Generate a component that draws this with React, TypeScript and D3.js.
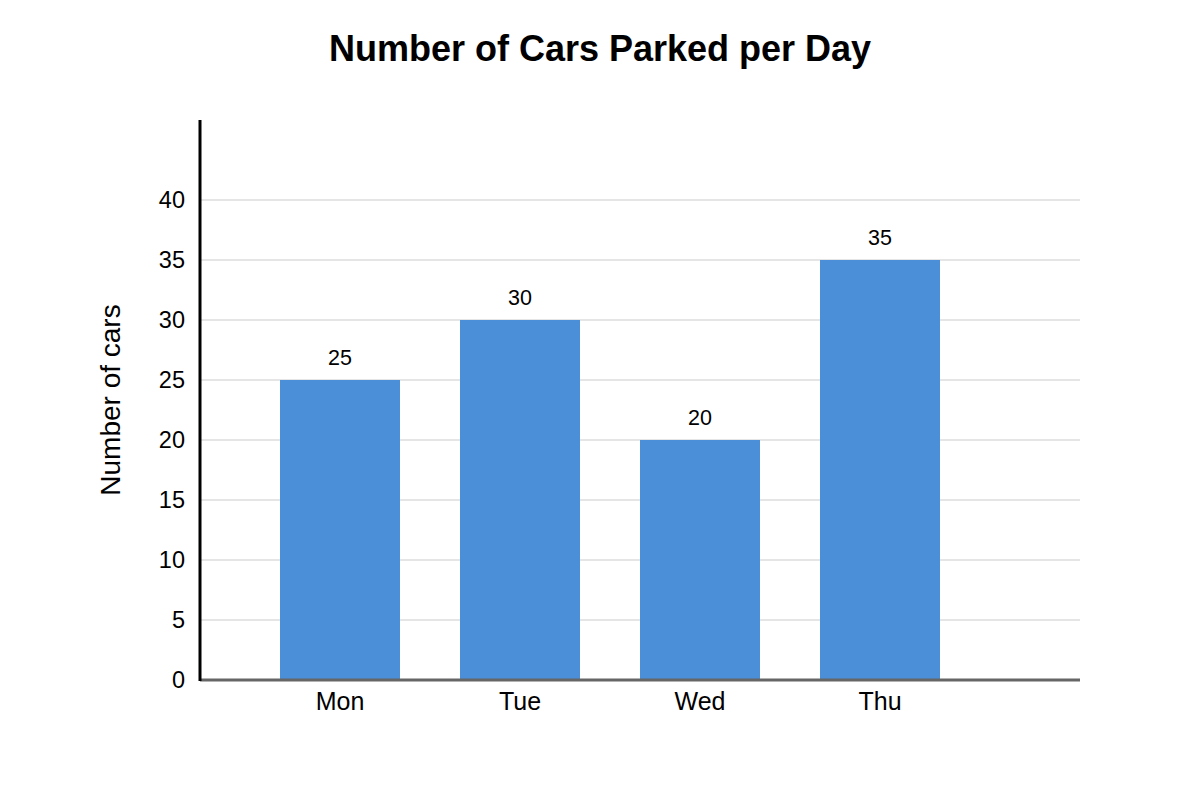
import { useEffect, useRef } from "react";
import * as d3 from "d3";

const WIDTH = 1200;
const HEIGHT = 800;

const TITLE = "Number of Cars Parked per Day";
const Y_LABEL = "Number of cars";
const DAYS = ["Mon", "Tue", "Wed", "Thu"];
const CARS = [25, 30, 20, 35];
const Y_TICKS = [0, 5, 10, 15, 20, 25, 30, 35, 40];

const BAR_COLOR = "#4a8fd8";
const FONT = "'Liberation Sans', Arial, sans-serif";

export default function App() {
  const svgRef = useRef<SVGSVGElement | null>(null);

  useEffect(() => {
    if (!svgRef.current) return;
    const svg = d3.select(svgRef.current);
    svg.selectAll("*").remove();

    const plotLeft = 200;
    const plotRight = 1080;
    const plotTop = 120;
    const plotBottom = 680;

    // y: 12px per car, 0 at the baseline
    const y = d3.scaleLinear().domain([0, 40]).range([plotBottom, 200]);

    const x = d3
      .scaleBand<string>()
      .domain(DAYS)
      .range([250, 970])
      .paddingInner(1 / 3)
      .paddingOuter(1 / 6);

    svg
      .append("rect")
      .attr("width", WIDTH)
      .attr("height", HEIGHT)
      .attr("fill", "#ffffff");

    // Title
    svg
      .append("text")
      .attr("x", WIDTH / 2)
      .attr("y", 61)
      .attr("text-anchor", "middle")
      .attr("font-family", FONT)
      .attr("font-weight", "bold")
      .attr("font-size", 36)
      .text(TITLE);

    // Gridlines
    svg
      .append("g")
      .selectAll("line")
      .data(Y_TICKS.filter((t) => t > 0))
      .join("line")
      .attr("x1", plotLeft)
      .attr("x2", plotRight)
      .attr("y1", (d) => y(d))
      .attr("y2", (d) => y(d))
      .attr("stroke", "#dddddd")
      .attr("stroke-width", 1.5);

    // Y tick labels
    svg
      .append("g")
      .selectAll("text")
      .data(Y_TICKS)
      .join("text")
      .attr("x", 185)
      .attr("y", (d) => y(d))
      .attr("dy", "0.35em")
      .attr("text-anchor", "end")
      .attr("font-family", FONT)
      .attr("font-size", 23.5)
      .text((d) => d);

    // Bars
    svg
      .append("g")
      .selectAll("rect")
      .data(DAYS)
      .join("rect")
      .attr("x", (d) => x(d) ?? 0)
      .attr("y", (_d, i) => y(CARS[i]))
      .attr("width", x.bandwidth())
      .attr("height", (_d, i) => plotBottom - y(CARS[i]))
      .attr("fill", BAR_COLOR);

    // Value labels
    svg
      .append("g")
      .selectAll("text")
      .data(DAYS)
      .join("text")
      .attr("x", (d) => (x(d) ?? 0) + x.bandwidth() / 2)
      .attr("y", (_d, i) => y(CARS[i]) - 15)
      .attr("text-anchor", "middle")
      .attr("font-family", FONT)
      .attr("font-size", 21.5)
      .text((_d, i) => CARS[i]);

    // Category labels
    svg
      .append("g")
      .selectAll("text")
      .data(DAYS)
      .join("text")
      .attr("x", (d) => (x(d) ?? 0) + x.bandwidth() / 2)
      .attr("y", 710)
      .attr("text-anchor", "middle")
      .attr("font-family", FONT)
      .attr("font-size", 25)
      .text((d) => d);

    // Axes lines
    svg
      .append("line")
      .attr("x1", plotLeft)
      .attr("x2", plotRight)
      .attr("y1", plotBottom)
      .attr("y2", plotBottom)
      .attr("stroke", "#666666")
      .attr("stroke-width", 3);

    svg
      .append("line")
      .attr("x1", plotLeft)
      .attr("x2", plotLeft)
      .attr("y1", plotTop)
      .attr("y2", plotBottom + 1)
      .attr("stroke", "#000000")
      .attr("stroke-width", 3);

    // Y axis title
    svg
      .append("text")
      .attr("transform", `translate(120,400) rotate(-90)`)
      .attr("text-anchor", "middle")
      .attr("font-family", FONT)
      .attr("font-size", 28)
      .text(Y_LABEL);
  }, []);

  return (
    <svg
      ref={svgRef}
      width={WIDTH}
      height={HEIGHT}
      style={{ position: "absolute", left: 0, top: 0 }}
    />
  );
}
